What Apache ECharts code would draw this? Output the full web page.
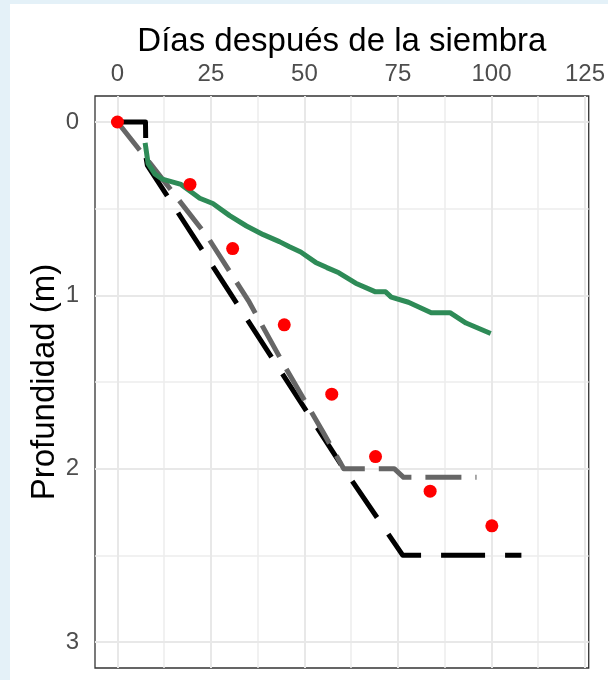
<!DOCTYPE html>
<html><head><meta charset="utf-8">
<script src="https://cdn.jsdelivr.net/npm/echarts@6/dist/echarts.min.js"></script>
<style>
html,body{margin:0;padding:0;background:#e4f1f8;width:608px;height:680px;overflow:hidden;}
#wrap{position:absolute;left:10px;top:4px;width:598px;height:676px;background:#ffffff;}
#chart{width:598px;height:676px;}
</style></head><body><div id="wrap"><div id="chart"></div></div>
<script>
// Axis ticks
const xTicks = [0, 25, 50, 75, 100, 125];
const xMinor = [12.5, 37.5, 62.5, 87.5, 112.5];
const yTicks = [0, 1, 2, 3];
const yMinor = [0.5, 1.5, 2.5];

// Observed (red points)
const obsDays  = [0, 19.4, 30.8, 44.6, 57.3, 69.0, 83.6, 100.1];
const obsDepth = [0, 0.36, 0.73, 1.17, 1.57, 1.93, 2.13, 2.33];

// Black long-dashed model
const blackDays  = [0, 7.5, 7.6, 8.0, 60.5, 76.3, 108];
const blackDepth = [0, 0, 0.20, 0.25, 2.0, 2.5, 2.5];

// Grey dashed model
const greyDays  = [0, 8.8, 24, 35, 45, 55, 60.5, 74, 76.5, 96];
const greyDepth = [0, 0.24, 0.66, 1.03, 1.42, 1.79, 2.0, 2.0, 2.05, 2.05];

// Green solid model
const greenDays  = [7.4, 8.2, 10, 12, 17, 22, 25.5, 30, 34.5, 39, 43.3, 46, 49, 53, 56, 59.2, 63.7, 69, 71.7, 73.2, 77.8, 83.9, 88.9, 93.2, 99.8];
const greenDepth = [0.12, 0.24, 0.30, 0.33, 0.36, 0.44, 0.47, 0.54, 0.60, 0.65, 0.69, 0.72, 0.75, 0.81, 0.84, 0.87, 0.93, 0.98, 0.98, 1.01, 1.04, 1.10, 1.10, 1.16, 1.22];

const pairs = (xs, ys) => xs.map((x, i) => [x, ys[i]]);
const FONT = "'Liberation Sans', Arial, sans-serif";

const chart = echarts.init(document.getElementById('chart'), null, {renderer: 'canvas'});
const gridMajor = {color: '#e8e8e8', width: 2, type: 'solid'};
const gridMinor = {color: '#ededed', width: 1.5, type: 'solid'};
const markData = []
  .concat(xMinor.map(v => ({xAxis: v, lineStyle: gridMinor})))
  .concat(yMinor.map(v => ({yAxis: v, lineStyle: gridMinor})))
  .concat(xTicks.map(v => ({xAxis: v, lineStyle: gridMajor})))
  .concat(yTicks.map(v => ({yAxis: v, lineStyle: gridMajor})));

chart.setOption({
  animation: false,
  backgroundColor: '#ffffff',
  grid: {left: 85, top: 92, width: 496, height: 572, show: true, backgroundColor: '#ffffff', borderColor: '#333333', borderWidth: 1.3},
  xAxis: {
    type: 'value', position: 'top', min: -6, max: 126,
    name: 'Días después de la siembra', nameLocation: 'middle', nameGap: 38, nameMoveOverlap: false,
    nameTextStyle: {fontFamily: FONT, fontSize: 33, color: '#000000'},
    axisLine: {show: false},
    axisTick: {show: true, length: 7, customValues: xTicks, lineStyle: {color: '#333333', width: 1.5}},
    axisLabel: {customValues: xTicks, fontFamily: FONT, fontSize: 24, color: '#4d4d4d', margin: 10},
    splitLine: {show: false}
  },
  yAxis: {
    type: 'value', inverse: true, min: -0.15, max: 3.15,
    name: 'Profundidad (m)', nameLocation: 'middle', nameGap: 34, nameRotate: 90, nameMoveOverlap: false,
    nameTextStyle: {fontFamily: FONT, fontSize: 33, color: '#000000'},
    axisLine: {show: false},
    axisTick: {show: true, length: 7, customValues: yTicks, lineStyle: {color: '#333333', width: 1.5}},
    axisLabel: {customValues: yTicks, fontFamily: FONT, fontSize: 24, color: '#4d4d4d', margin: 16},
    splitLine: {show: false}
  },
  series: [
    {type: 'line', data: [], z: 1, silent: true,
     markLine: {z: 1, silent: true, symbol: 'none', label: {show: false}, animation: false, data: markData}},
    {type: 'line', data: pairs(blackDays, blackDepth), z: 10, showSymbol: false, symbol: 'none',
     lineStyle: {color: '#000000', width: 5, type: [44, 20], cap: 'butt', join: 'round', opacity: 1}},
    {type: 'line', data: pairs(greyDays, greyDepth), z: 11, showSymbol: false, symbol: 'none',
     lineStyle: {color: '#666666', width: 5, type: [36, 14], cap: 'butt', join: 'round', opacity: 1}},
    {type: 'line', data: pairs(greenDays, greenDepth), z: 12, showSymbol: false, symbol: 'none',
     lineStyle: {color: '#2e8b57', width: 5, type: 'solid', cap: 'butt', join: 'round', opacity: 1}},
    {type: 'scatter', data: pairs(obsDays, obsDepth), z: 13, symbol: 'circle', symbolSize: 13,
     itemStyle: {color: '#ff0000', opacity: 1}}
  ]
});
</script></body></html>
